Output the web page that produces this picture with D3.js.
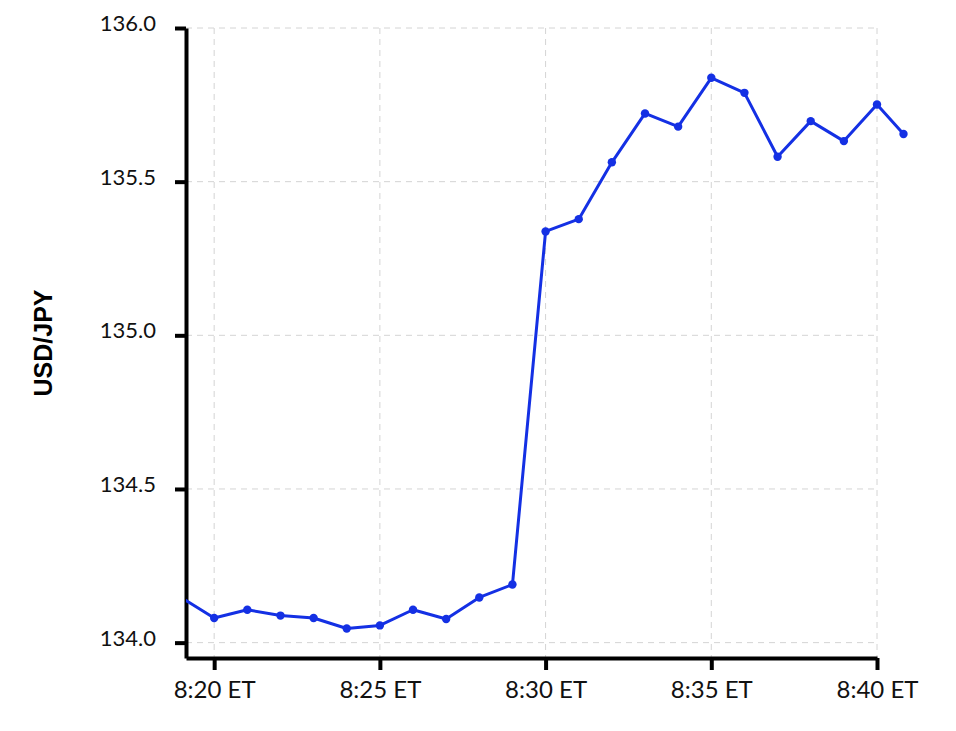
<!DOCTYPE html>
<html>
<head>
<meta charset="utf-8">
<title>USD/JPY</title>
<style>
  body { margin: 0; background: #fff; }
  svg { display: block; }
</style>
</head>
<body>
<main></main>
<script src="https://d3js.org/d3.v7.min.js"></script>
<script>
// minute-by-minute USD/JPY quotes
const times = ["8:19:00", "8:20:00", "8:21:00", "8:22:00", "8:23:00", "8:24:00", "8:25:00",
  "8:26:00", "8:27:00", "8:28:00", "8:29:00", "8:30:00", "8:31:00", "8:32:00", "8:33:00",
  "8:34:00", "8:35:00", "8:36:00", "8:37:00", "8:38:00", "8:39:00", "8:40:00", "8:40:48"];
const prices = [134.147, 134.080, 134.107, 134.088, 134.080, 134.046, 134.056,
  134.107, 134.077, 134.147, 134.189, 135.338, 135.378, 135.563, 135.722,
  135.679, 135.838, 135.789, 135.581, 135.697, 135.632, 135.751, 135.655];
const xTicks = ["8:20:00", "8:25:00", "8:30:00", "8:35:00", "8:40:00"];
const yTicks = [134.0, 134.5, 135.0, 135.5, 136.0];
const xDomain = ["8:19:09", "8:40:00"];
const yDomain = [133.95, 136.0];

const width = 956, height = 731;
const margin = {top: 28, right: 79, bottom: 73, left: 186};
const tickFont = "Lato, 'Open Sans', sans-serif";

const parse = d3.timeParse("%H:%M:%S");
const data = times.map((t, i) => ({t: parse(t), v: prices[i]}));

const x = d3.scaleTime()
    .domain(xDomain.map(parse))
    .range([margin.left, width - margin.right]);
const y = d3.scaleLinear()
    .domain(yDomain)
    .range([height - margin.bottom, margin.top]);

const svg = d3.select("main").append("svg")
    .attr("width", width)
    .attr("height", height);

svg.append("clipPath").attr("id", "clip")
  .append("rect")
    .attr("x", margin.left).attr("y", 0)
    .attr("width", width - margin.left).attr("height", height);

// grid
const grid = svg.append("g")
    .attr("stroke", "#d4d4d4")
    .attr("stroke-width", 1)
    .attr("stroke-dasharray", "6,5");
grid.selectAll("line.v")
  .data(xTicks.map(parse))
  .join("line")
    .attr("class", "v")
    .attr("x1", d => x(d)).attr("x2", d => x(d))
    .attr("y1", y.range()[1]).attr("y2", y.range()[0]);
grid.selectAll("line.h")
  .data(yTicks)
  .join("line")
    .attr("class", "h")
    .attr("x1", x.range()[0]).attr("x2", x.range()[1])
    .attr("y1", d => y(d)).attr("y2", d => y(d));

// x axis
const xAxis = svg.append("g")
    .attr("transform", `translate(0,${height - margin.bottom})`)
    .call(d3.axisBottom(x)
      .tickValues(xTicks.map(parse))
      .tickFormat(d => d3.timeFormat("%-H:%M")(d) + " ET")
      .tickSizeInner(12)
      .tickSizeOuter(0)
      .tickPadding(12));
xAxis.select(".domain").attr("stroke", "#000").attr("stroke-width", 4);
xAxis.selectAll(".tick line").attr("stroke", "#000").attr("stroke-width", 4);
xAxis.selectAll(".tick text")
    .attr("fill", "#111")
    .style("font-family", tickFont)
    .style("font-size", "24px")
    .attr("dy", "0.66em");

// y axis
const yAxis = svg.append("g")
    .attr("transform", `translate(${margin.left},0)`)
    .call(d3.axisLeft(y)
      .tickValues(yTicks)
      .tickFormat(d3.format(".1f"))
      .tickSizeInner(11)
      .tickSizeOuter(0)
      .tickPadding(19));
yAxis.select(".domain").attr("stroke", "#000").attr("stroke-width", 4);
yAxis.selectAll(".tick line").attr("stroke", "#000").attr("stroke-width", 4);
yAxis.selectAll(".tick text")
    .attr("fill", "#111")
    .style("font-family", tickFont)
    .style("font-size", "22px")
    .attr("dy", "0.12em");

svg.append("text")
    .attr("transform", `translate(52,${(y.range()[0] + y.range()[1]) / 2}) rotate(-90)`)
    .attr("text-anchor", "middle")
    .style("font-family", "'Liberation Sans', Arial, sans-serif")
    .style("font-size", "25px")
    .style("font-weight", "bold")
    .attr("fill", "#000")
    .text("USD/JPY");

// series
const line = d3.line()
    .x(d => x(d.t))
    .y(d => y(d.v));

const series = svg.append("g").attr("clip-path", "url(#clip)");
series.append("path")
    .datum(data)
    .attr("fill", "none")
    .attr("stroke", "#1430e4")
    .attr("stroke-width", 3)
    .attr("stroke-linejoin", "round")
    .attr("d", line);
series.selectAll("circle")
  .data(data)
  .join("circle")
    .attr("cx", d => x(d.t))
    .attr("cy", d => y(d.v))
    .attr("r", 4.2)
    .attr("fill", "#1430e4");
</script>
</body>
</html>
